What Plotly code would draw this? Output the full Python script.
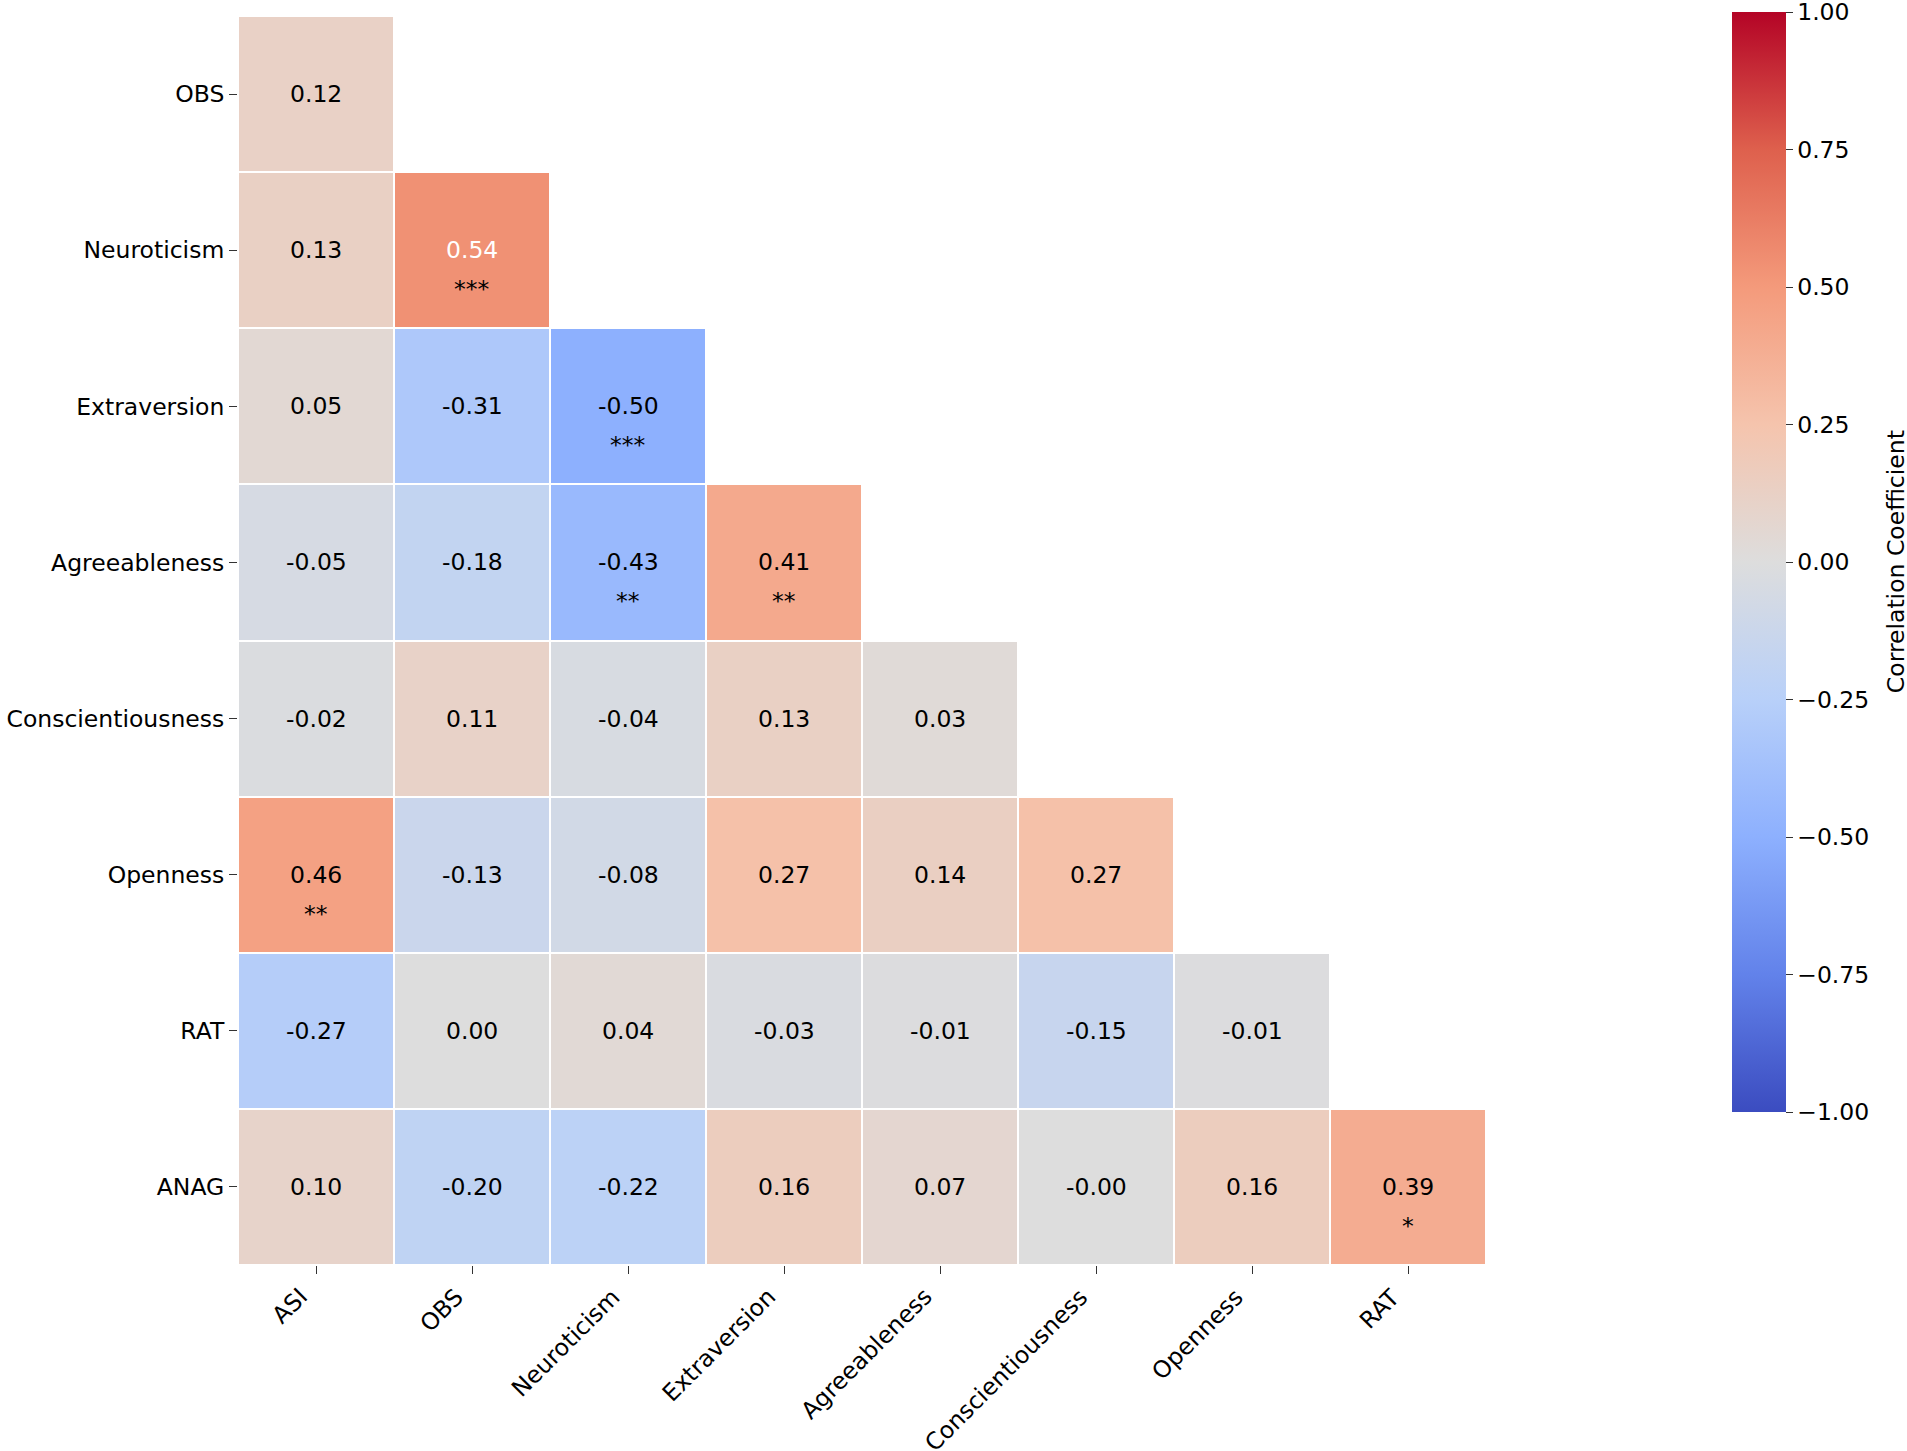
import plotly.graph_objects as go

# variables on the two axes
row_labels = ["OBS", "Neuroticism", "Extraversion", "Agreeableness",
              "Conscientiousness", "Openness", "RAT", "ANAG"]
col_labels = ["ASI", "OBS", "Neuroticism", "Extraversion", "Agreeableness",
              "Conscientiousness", "Openness", "RAT"]

# lower triangle of correlations, one list per row
corr_obs = [0.12]
corr_neur = [0.13, 0.54]
corr_extr = [0.05, -0.31, -0.50]
corr_agre = [-0.05, -0.18, -0.43, 0.41]
corr_cons = [-0.02, 0.11, -0.04, 0.13, 0.03]
corr_open = [0.46, -0.13, -0.08, 0.27, 0.14, 0.27]
corr_rat = [-0.27, 0.00, 0.04, -0.03, -0.01, -0.15, -0.01]
corr_anag = [0.10, -0.20, -0.22, 0.16, 0.07, -0.0, 0.16, 0.39]

# significance stars, same shape
sig_obs = [""]
sig_neur = ["", "***"]
sig_extr = ["", "", "***"]
sig_agre = ["", "", "**", "**"]
sig_cons = ["", "", "", "", ""]
sig_open = ["**", "", "", "", "", ""]
sig_rat = ["", "", "", "", "", "", ""]
sig_anag = ["", "", "", "", "", "", "", "*"]

corr_rows = [corr_obs, corr_neur, corr_extr, corr_agre, corr_cons, corr_open, corr_rat, corr_anag]
sig_rows = [sig_obs, sig_neur, sig_extr, sig_agre, sig_cons, sig_open, sig_rat, sig_anag]

# colorbar ticks
cbar_ticks = [-1, -0.75, -0.5, -0.25, 0, 0.25, 0.5, 0.75, 1]

# matplotlib "coolwarm"
coolwarm = [
    [0.0, "rgb(59,76,192)"],
    [0.125, "rgb(98,130,234)"],
    [0.25, "rgb(141,176,254)"],
    [0.375, "rgb(184,208,249)"],
    [0.5, "rgb(221,221,221)"],
    [0.625, "rgb(245,196,173)"],
    [0.75, "rgb(244,154,123)"],
    [0.875, "rgb(222,96,77)"],
    [1.0, "rgb(180,4,38)"],
]

FS = 23.5


def cmap(v):
    t = (v + 1) / 2
    for (t0, c0), (t1, c1) in zip(coolwarm[:-1], coolwarm[1:]):
        if t0 <= t <= t1:
            a = [int(x) for x in c0[4:-1].split(",")]
            b = [int(x) for x in c1[4:-1].split(",")]
            f = (t - t0) / (t1 - t0)
            return [a[k] + (b[k] - a[k]) * f for k in range(3)]
    return [221, 221, 221]


def text_color(v):
    # seaborn-style contrast rule on relative luminance
    rgb = [c / 255 for c in cmap(v)]
    lin = [c / 12.92 if c <= 0.03928 else ((c + 0.055) / 1.055) ** 2.4 for c in rgb]
    lum = 0.2126 * lin[0] + 0.7152 * lin[1] + 0.0722 * lin[2]
    return "black" if lum > 0.408 else "white"


n = len(col_labels)
z = [row + [None] * (n - len(row)) for row in corr_rows]

fig = go.Figure(go.Heatmap(
    z=z,
    x=list(range(n)),
    y=list(range(len(row_labels))),
    zmin=-1, zmax=1,
    colorscale=coolwarm,
    xgap=2, ygap=2,
    hoverongaps=False,
    colorbar=dict(
        tickvals=cbar_ticks,
        tickformat=".2f",
        ticklabeloverflow="allow",
        ticks="outside", ticklen=7, tickcolor="#333",
        tickfont=dict(size=FS, color="black"),
        thickness=54,
        lenmode="pixels", len=1120, ypad=10, xpad=0,
        x=1.197, xanchor="left",
        y=1.011, yanchor="top",
        outlinewidth=0,
    ),
))

annotations = []
for i, (vals, sigs) in enumerate(zip(corr_rows, sig_rows)):
    for j, (v, s) in enumerate(zip(vals, sigs)):
        annotations.append(dict(
            x=j, y=i, text=f"{v:.2f}", showarrow=False,
            font=dict(size=FS, color=text_color(v)),
        ))
        if s:
            annotations.append(dict(
                x=j, y=i + 0.25, text=s, showarrow=False,
                font=dict(size=FS, color="black"),
            ))

# rotated x labels, right/top aligned like matplotlib
for j, lab in enumerate(col_labels):
    annotations.append(dict(
        x=j, xref="x", y=0, yref="paper", yshift=-15,
        xanchor="right", yanchor="top", textangle=-45,
        text=lab, showarrow=False, font=dict(size=FS, color="black"),
    ))

# colorbar title
annotations.append(dict(
    xref="paper", yref="paper", x=1.328, y=0.563,
    xanchor="center", yanchor="middle",
    text="Correlation Coefficient", textangle=-90, showarrow=False,
    font=dict(size=FS, color="black"),
))

fig.update_layout(
    width=1907, height=1451,
    margin=dict(l=238, r=421, t=16, b=186, autoexpand=False),
    plot_bgcolor="white", paper_bgcolor="white",
    font=dict(family="DejaVu Sans", size=FS, color="black"),
    annotations=annotations,
)
fig.update_xaxes(
    range=[-0.5, n - 0.5], tickvals=list(range(n)), showticklabels=False,
    ticks="outside", ticklen=8, tickcolor="#333",
    showgrid=False, zeroline=False, showline=False, automargin=False,
)
fig.update_yaxes(
    range=[len(row_labels) - 0.5, -0.5], tickvals=list(range(len(row_labels))),
    ticktext=row_labels, ticks="outside", ticklen=8, tickcolor="#333",
    showgrid=False, zeroline=False, showline=False, automargin=False,
    tickfont=dict(size=FS, color="black"),
)

fig.write_html("out.html", config={"displayModeBar": False},
               post_script="document.body.style.margin='0px';")
